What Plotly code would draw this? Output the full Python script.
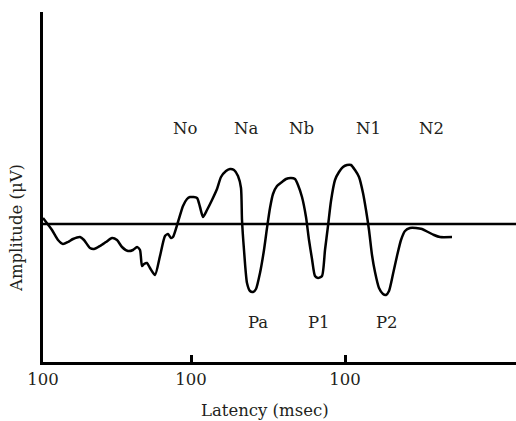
import plotly.graph_objects as go

# Latency (arbitrary units along axis) and amplitude (arbitrary units, baseline = 0)
latency = [0, 9, 15, 20, 25, 30, 37, 41, 47, 51, 57, 63, 69, 74, 79, 85, 90, 94, 97, 99, 101, 104, 107, 112,
           117, 122, 125, 128, 130, 135, 140, 144, 147, 154, 157, 160, 164, 169, 174, 178, 183, 187, 191, 195,
           198, 199, 201, 204, 207, 210, 213, 217, 221, 224, 227, 230, 234, 239, 243, 248, 252, 255, 259, 263,
           266, 269, 272, 275, 279, 282, 285, 288, 292, 296, 300, 304, 308, 312, 316, 320, 323, 326, 329, 332,
           336, 340, 343, 346, 350, 354, 358, 362, 367, 373, 379, 385, 391, 397, 409]
amplitude = [6, -6, -16, -20, -18, -15, -13, -16, -24, -25, -22, -18, -14, -16, -23, -27, -26, -23, -26, -42,
             -40, -39, -44, -51, -32, -12, -10, -14, -13, 2, 18, 25, 27, 26, 17, 7, 14, 24, 35, 47, 53, 55, 54,
             48, 36, 4, -26, -59, -67, -68, -65, -49, -26, -4, 16, 30, 38, 42, 45, 46, 45, 39, 27, 7, -16, -35,
             -52, -54, -52, -26, -2, 23, 44, 52, 57, 59, 59, 54, 47, 31, 14, -6, -31, -48, -64, -70, -71, -67,
             -50, -32, -16, -7, -4, -4, -5, -8, -11, -13, -13]

x_range = [0, 473]
y_range = [-138, 212]
tick_vals = [0, 148, 302]
tick_text = ["100", "100", "100"]

n_labels = ["No", "Na", "Nb", "N1", "N2"]
n_x = [142, 203, 258, 325, 388]
n_y = 96
p_labels = ["Pa", "P1", "P2"]
p_x = [215, 276, 344]
p_y = -98

FONT = "DejaVu Serif"
SIZE = 16.5

fig = go.Figure()
fig.add_trace(go.Scatter(x=x_range, y=[0, 0], mode="lines",
                         line=dict(color="black", width=2.5), hoverinfo="skip"))
fig.add_trace(go.Scatter(x=latency, y=amplitude, mode="lines",
                         line=dict(color="black", width=2.5, shape="spline", smoothing=0.6)))

for t, xv in zip(n_labels, n_x):
    fig.add_annotation(x=xv, y=n_y, text=t, showarrow=False, xanchor="center", yanchor="middle",
                       font=dict(family=FONT, size=SIZE, color="#231f20"))
for t, xv in zip(p_labels, p_x):
    fig.add_annotation(x=xv, y=p_y, text=t, showarrow=False, xanchor="center", yanchor="middle",
                       font=dict(family=FONT, size=SIZE, color="#231f20"))

fig.add_annotation(xref="paper", yref="paper", x=(16 - 43) / 473, y=(362 - 228) / 350,
                   xanchor="center", yanchor="middle",
                   text="Amplitude (μV)", textangle=-90, showarrow=False,
                   font=dict(family=FONT, size=SIZE, color="#231f20"))
fig.add_annotation(xref="paper", yref="paper", x=(265 - 43) / 473, y=(362 - 410) / 350,
                   xanchor="center", yanchor="middle",
                   text="Latency (msec)", showarrow=False,
                   font=dict(family=FONT, size=SIZE, color="#231f20"))

fig.update_layout(
    width=516, height=421,
    margin=dict(l=43, r=0, t=12, b=59),
    paper_bgcolor="white", plot_bgcolor="white",
    showlegend=False,
    xaxis=dict(range=x_range, showgrid=False, zeroline=False, showline=True,
               linecolor="black", linewidth=3, ticks="inside", ticklen=7, tickwidth=3,
               tickcolor="black", tickvals=tick_vals, ticktext=tick_text,
               tickfont=dict(family=FONT, size=SIZE, color="#231f20"), fixedrange=True),
    yaxis=dict(range=y_range, showgrid=False, zeroline=False, showline=True,
               linecolor="black", linewidth=3, showticklabels=False, ticks="",
               fixedrange=True),
)

fig.write_html("out.html")
